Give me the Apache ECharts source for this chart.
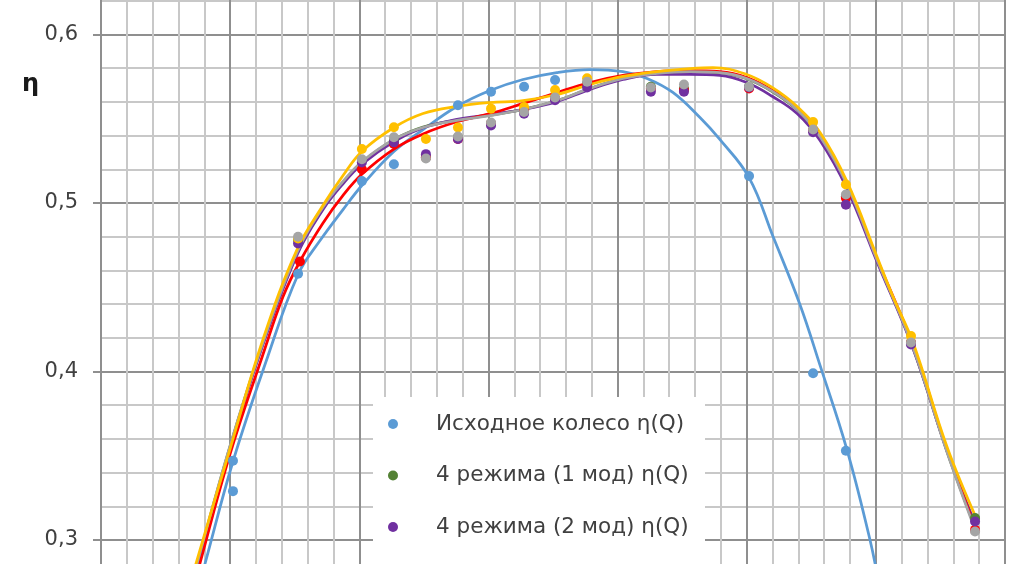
<!DOCTYPE html>
<html>
<head>
<meta charset="utf-8">
<script src="https://cdn.jsdelivr.net/npm/echarts@6/dist/echarts.min.js"></script>
<style>
html,body{margin:0;padding:0;background:#fff;}
#chart{width:1021px;height:564px;}
</style>
</head>
<body>
<div id="chart"></div>
<script>
// ---- data (Q in grid units, η) ----
const legendNames = ['Исходное колесо η(Q)', '4 режима (1 мод) η(Q)', '4 режима (2 мод) η(Q)'];
const otherNames = ['4 режима (3 мод) η(Q)', '4 режима (4 мод) η(Q)', '4 режима (5 мод) η(Q)'];
const yTickValues = [0.3, 0.4, 0.5, 0.6];

const bluePoints = [[5.11,0.329],[5.11,0.347],[7.63,0.458],[10.1,0.513],[11.34,0.523],[13.82,0.558],[15.1,0.566],[16.38,0.569],[17.58,0.573],[25.09,0.516],[27.57,0.399],[28.84,0.353]];
const greenPoints = [[7.63,0.478],[10.1,0.525],[11.34,0.537],[12.58,0.527],[13.82,0.539],[15.1,0.547],[16.38,0.554],[17.58,0.562],[18.82,0.571],[21.29,0.569],[22.57,0.568],[25.09,0.569],[27.57,0.543],[28.84,0.504],[31.36,0.417],[33.84,0.313]];
const purplePoints = [[7.63,0.476],[10.1,0.524],[11.34,0.536],[12.58,0.529],[13.82,0.538],[15.1,0.546],[16.38,0.553],[17.58,0.561],[18.82,0.5685],[21.29,0.566],[22.57,0.566],[25.09,0.5686],[27.57,0.542],[28.84,0.499],[31.36,0.416],[33.84,0.311]];
const redPoints = [[7.7,0.4653],[10.1,0.52],[11.34,0.535],[12.58,0.527],[13.82,0.538],[15.1,0.547],[16.38,0.555],[17.58,0.562],[18.82,0.57],[21.29,0.568],[22.57,0.567],[25.09,0.568],[27.57,0.543],[28.84,0.503],[31.36,0.417],[33.84,0.306]];
const yellowPoints = [[7.63,0.479],[10.1,0.532],[11.34,0.545],[12.58,0.538],[13.82,0.5448],[15.1,0.556],[16.38,0.557],[17.58,0.567],[18.82,0.574],[27.57,0.548],[28.84,0.511],[31.36,0.421]];
const grayPoints = [[7.63,0.480],[10.1,0.526],[11.34,0.539],[12.58,0.5264],[13.82,0.5395],[15.1,0.5478],[16.38,0.554],[17.58,0.5626],[18.82,0.572],[21.29,0.5685],[22.57,0.5703],[25.09,0.569],[27.57,0.5436],[28.84,0.505],[31.36,0.4172],[33.84,0.305]];

const blueTrend = [[3.6,0.262],[4.03,0.2861],[5.11,0.3466],[6.39,0.4059],[7.63,0.4576],[8.48,0.4777],[9.37,0.4961],[10.1,0.5104],[11.34,0.5306],[12.47,0.5436],[13.78,0.5573],[15.06,0.5668],[16.34,0.5733],[17.65,0.5774],[18.93,0.5792],[20.21,0.578],[21.14,0.5739],[22.14,0.5656],[23.19,0.5507],[23.96,0.5377],[25.09,0.5151],[26.02,0.4801],[27.06,0.4398],[27.84,0.4036],[28.88,0.3537],[29.77,0.3003],[30.16,0.2706]];
const greenTrend = [[3.3,0.262],[3.73,0.2861],[4.99,0.3553],[6.27,0.4166],[7.59,0.4700],[8.59,0.4968],[9.37,0.5122],[10.1,0.5240],[11.34,0.5375],[12.47,0.5450],[13.78,0.5492],[15.06,0.5521],[16.34,0.5556],[17.65,0.5607],[18.93,0.5679],[20.21,0.5738],[21.52,0.5768],[22.8,0.5779],[23.96,0.5772],[25.0,0.5737],[26.0,0.5660],[26.95,0.5553],[27.84,0.5393],[28.88,0.5108],[30.04,0.4663],[31.44,0.4140],[32.75,0.3527],[33.84,0.3075]];
const purpleTrend = [[3.33,0.262],[3.76,0.2861],[4.99,0.3543],[6.27,0.4160],[7.59,0.4692],[8.59,0.4960],[9.37,0.5114],[10.1,0.5230],[11.34,0.5365],[12.47,0.5447],[13.78,0.5496],[15.06,0.5525],[16.34,0.5555],[17.65,0.5602],[18.93,0.5674],[20.21,0.5733],[21.52,0.5763],[22.8,0.5763],[23.96,0.5757],[25.0,0.5715],[26.0,0.5632],[26.95,0.5531],[27.84,0.5371],[28.88,0.5086],[30.04,0.4653],[31.44,0.4136],[32.75,0.3531],[33.84,0.3098]];
const redTrend = [[3.42,0.262],[3.83,0.2861],[4.99,0.3507],[6.27,0.4101],[7.05,0.4445],[7.7,0.4653],[8.59,0.4880],[9.37,0.5045],[10.1,0.5170],[11.34,0.5320],[12.47,0.5410],[13.78,0.5482],[15.06,0.5530],[16.34,0.5591],[17.65,0.5656],[18.93,0.5715],[20.21,0.5757],[21.52,0.578],[22.8,0.5786],[23.96,0.578],[25.0,0.5745],[26.0,0.5668],[26.95,0.5561],[27.84,0.5401],[28.88,0.5116],[30.04,0.4671],[31.44,0.4154],[32.75,0.3537],[33.84,0.3074]];
const grayTrend = [[3.29,0.262],[3.72,0.2861],[4.99,0.3555],[6.27,0.4172],[7.59,0.4708],[8.59,0.4975],[9.37,0.5128],[10.1,0.5245],[11.34,0.5377],[12.47,0.5448],[13.78,0.549],[15.06,0.5519],[16.34,0.5555],[17.65,0.5608],[18.93,0.568],[20.21,0.5739],[21.52,0.5769],[22.8,0.578],[23.96,0.5774],[25.0,0.5739],[26.0,0.5662],[26.95,0.5555],[27.84,0.5395],[28.88,0.511],[30.04,0.4665],[31.44,0.4142],[32.75,0.3525],[33.84,0.3062]];
const yellowTrend = [[3.26,0.262],[3.68,0.2861],[4.99,0.3537],[6.27,0.4190],[7.59,0.4724],[8.59,0.4985],[9.37,0.5163],[10.1,0.5306],[11.34,0.5448],[12.47,0.5531],[13.78,0.5573],[15.06,0.5596],[16.34,0.5608],[17.65,0.5644],[18.93,0.5703],[20.21,0.5751],[21.52,0.578],[22.8,0.5798],[23.69,0.5804],[25.0,0.5763],[26.0,0.5685],[26.95,0.5573],[27.84,0.5418],[28.88,0.5128],[30.04,0.4683],[30.66,0.4445],[31.44,0.4172],[32.75,0.3555],[33.91,0.3122]];

const colors = {blue:'#5B9BD5', green:'#548235', purple:'#7030A0', red:'#FF0000', gray:'#A5A5A5', yellow:'#FFC000'};
const FONT = 'DejaVu Sans';

function trend(name, data, color, z) {
  return {name: name, type:'line', data: data, smooth: 0.4, showSymbol:false, symbol:'none',
    lineStyle:{color: color, width: 2.75}, itemStyle:{color: color}, z: z, silent:true, animation:false};
}
function pts(name, data, color, z) {
  return {name: name, type:'scatter', data: data, symbol:'circle', symbolSize: 10,
    itemStyle:{color: color, opacity:1}, z: z, animation:false};
}

const chart = echarts.init(document.getElementById('chart'), null, {renderer:'canvas'});
chart.setOption({
  animation:false,
  backgroundColor:'#ffffff',
  grid:{left:101, right:16, top:-134, height:842.5, containLabel:false, outerBoundsMode:'none'},
  xAxis:{type:'value', min:0, max:35, interval:5,
    axisLine:{show:false}, axisTick:{show:false}, axisLabel:{show:false},
    splitLine:{show:true, lineStyle:{color:'#8f8f8f', width:2}},
    minorTick:{show:false, splitNumber:5},
    minorSplitLine:{show:true, lineStyle:{color:'#c8c8c8', width:2}}},
  yAxis:{type:'value', min:0.2, max:0.7, interval:0.1,
    axisLine:{show:true, lineStyle:{color:'#8f8f8f', width:2}},
    axisTick:{show:true, length:8, lineStyle:{color:'#8f8f8f', width:2}},
    axisLabel:{show:true, margin:23, fontFamily:FONT, fontSize:21, color:'#404040',
      formatter:function(v){
        for (const t of yTickValues) { if (Math.abs(v - t) < 1e-6) return t.toFixed(1).replace('.', ','); }
        return '';
      }},
    splitLine:{show:true, lineStyle:{color:'#8f8f8f', width:2}},
    minorTick:{show:false, splitNumber:5},
    minorSplitLine:{show:true, lineStyle:{color:'#c8c8c8', width:2}}},
  legend:{data: legendNames, orient:'vertical', left:388, top:413, padding:0,
    itemWidth:10, itemHeight:10, itemGap:29.5, icon:'circle', selectedMode:false,
    textStyle:{fontFamily:FONT, fontSize:21.5, color:'#404040', padding:[0,0,0,33]}, z:10},
  graphic:[
    {type:'rect', shape:{x:373, y:397, width:332, height:180}, style:{fill:'#ffffff'}, z:1, silent:true},
    {type:'text', left:22, top:73, style:{text:'η', fontFamily:FONT, fontWeight:'bold', fontSize:24, fill:'#1a1a1a'}, z:10}
  ],
  series:[
    trend('Тренд: ' + legendNames[0], blueTrend, colors.blue, 2),
    trend('Тренд: ' + legendNames[1], greenTrend, colors.green, 2),
    trend('Тренд: ' + legendNames[2], purpleTrend, colors.purple, 2),
    trend('Тренд: ' + otherNames[0], redTrend, colors.red, 2),
    trend('Тренд: ' + otherNames[1], grayTrend, colors.gray, 2),
    trend('Тренд: ' + otherNames[2], yellowTrend, colors.yellow, 2),
    pts(legendNames[0], bluePoints, colors.blue, 3),
    pts(legendNames[1], greenPoints, colors.green, 3),
    pts(otherNames[0], redPoints, colors.red, 3),
    pts(legendNames[2], purplePoints, colors.purple, 3),
    pts(otherNames[2], yellowPoints, colors.yellow, 3),
    pts(otherNames[1], grayPoints, colors.gray, 3)
  ]
});
</script>
</body>
</html>
